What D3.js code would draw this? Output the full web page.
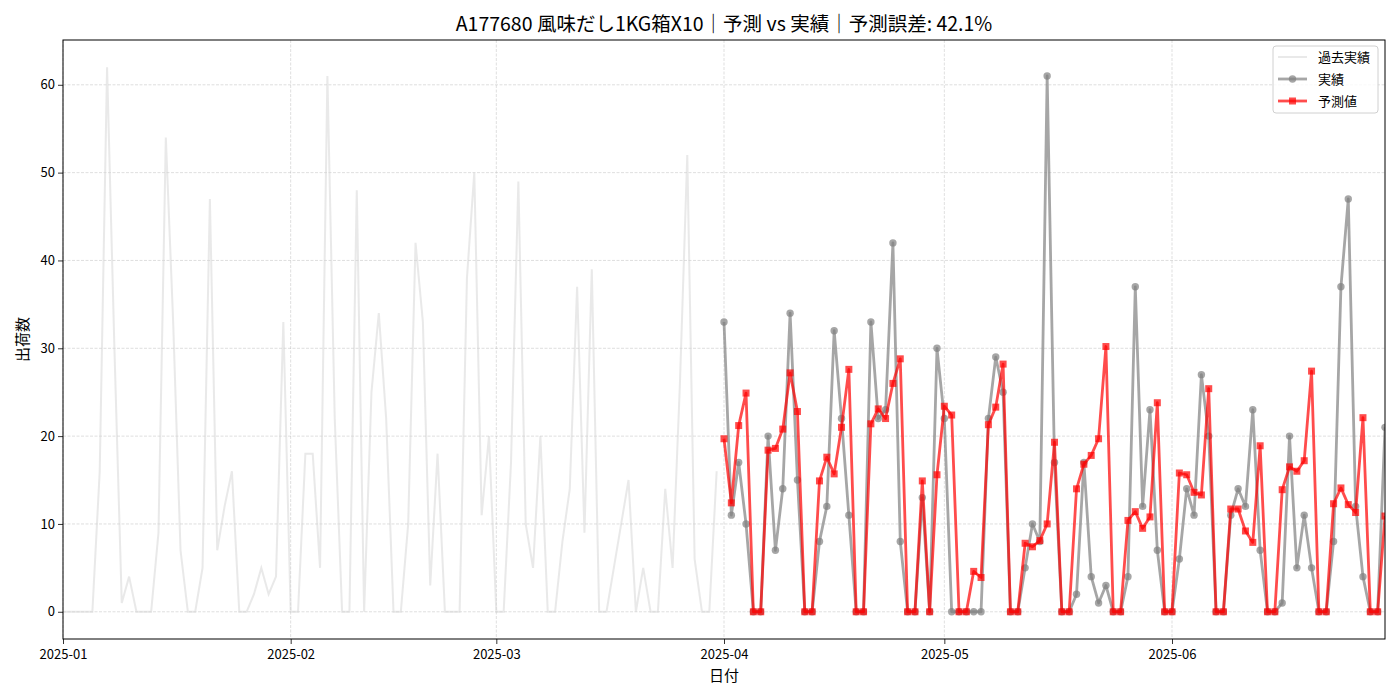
<!DOCTYPE html>
<html>
<head>
<meta charset="utf-8">
<script src="https://cdn.jsdelivr.net/npm/d3@7"></script>
<style>
  body { margin: 0; background: #fff; }
  text { font-family: "Noto Sans CJK JP", "Noto Sans", sans-serif; }
</style>
</head>
<body>
<div id="chart-area"></div>
<script>
const title = 'A177680 風味だし1KG箱X10｜予測 vs 実績｜予測誤差: 42.1%';

// daily shipments, 2025-01-01 .. 2025-03-31
const pastStart = Date.UTC(2025, 0, 1);
const pastValues = [
    0, 0, 0, 0, 0, 16, 62, 30, 1, 4, 0, 0, 0, 9, 54, 33, 7, 0, 0, 5,
    47, 7, 12, 16, 0, 0, 2, 5, 2, 4, 33, 0, 0, 18, 18, 5, 61, 22, 0, 0,
    48, 0, 25, 34, 22, 0, 0, 10, 42, 33, 3, 18, 0, 0, 0, 38, 50, 11, 20, 0,
    0, 17, 49, 10, 5, 20, 0, 0, 8, 14, 37, 9, 39, 0, 0, 5, 10, 15, 0, 5,
    0, 0, 14, 5, 26, 52, 6, 0, 0, 16
];

// daily, 2025-04-01 .. 2025-06-30
const testStart = Date.UTC(2025, 3, 1);
const actualValues = [
    33, 11, 17, 10, 0, 0, 20, 7, 14, 34, 15, 0, 0, 8, 12, 32, 22, 11, 0, 0,
    33, 22, 23, 42, 8, 0, 0, 13, 0, 30, 22, 0, 0, 0, 0, 0, 22, 29, 25, 0,
    0, 5, 10, 8, 61, 17, 0, 0, 2, 17, 4, 1, 3, 0, 0, 4, 37, 12, 23, 7,
    0, 0, 6, 14, 11, 27, 20, 0, 0, 11, 14, 12, 23, 7, 0, 0, 1, 20, 5, 11,
    5, 0, 0, 8, 37, 47, 12, 4, 0, 0, 21
];
const predValues = [
    19.7, 12.4, 21.2, 24.9, 0, 0, 18.4, 18.6, 20.8, 27.2, 22.8, 0, 0, 14.9, 17.6, 15.7, 21.0, 27.6, 0, 0,
    21.4, 23.1, 22.0, 26.0, 28.8, 0, 0, 14.9, 0, 15.6, 23.4, 22.4, 0, 0, 4.6, 3.9, 21.3, 23.3, 28.2, 0,
    0, 7.8, 7.4, 8.1, 10.0, 19.3, 0, 0, 14.0, 16.8, 17.8, 19.7, 30.2, 0, 0, 10.4, 11.4, 9.5, 10.8, 23.8,
    0, 0, 15.8, 15.6, 13.6, 13.3, 25.4, 0, 0, 11.7, 11.7, 9.2, 7.9, 18.9, 0, 0, 13.9, 16.5, 16.0, 17.2,
    27.4, 0, 0, 12.3, 14.1, 12.2, 11.3, 22.1, 0, 0, 10.9
];

const yTicks = [0, 10, 20, 30, 40, 50, 60];
const legendLabels = ['過去実績', '実績', '予測値'];

const dayMs = 24 * 3600 * 1000;
const past = pastValues.map((v, i) => ({ date: new Date(pastStart + i * dayMs), value: v }));
const actual = actualValues.map((v, i) => ({ date: new Date(testStart + i * dayMs), value: v }));
const pred = predValues.map((v, i) => ({ date: new Date(testStart + i * dayMs), value: v }));

const totalWidth = 1400, totalHeight = 700;
const margin = { top: 40, right: 15, bottom: 61, left: 63 };
const width = totalWidth - margin.left - margin.right;
const height = totalHeight - margin.top - margin.bottom;

const svg = d3.select('#chart-area').append('svg')
    .attr('width', totalWidth)
    .attr('height', totalHeight);

const g = svg.append('g')
    .attr('transform', `translate(${margin.left}, ${margin.top})`);

const x = d3.scaleUtc()
    .domain([past[0].date, actual[actual.length - 1].date])
    .range([0, width]);

const allValues = pastValues.concat(actualValues, predValues);
const yMax = d3.max(allValues);
const pad = yMax * 0.05;
const y = d3.scaleLinear()
    .domain([-pad, yMax + pad])
    .range([height, 0]);

const monthTicks = d3.utcMonth.range(past[0].date, actual[actual.length - 1].date);

// grid
g.append('g').selectAll('line.gy')
    .data(yTicks).join('line')
    .attr('x1', 0).attr('x2', width)
    .attr('y1', d => y(d)).attr('y2', d => y(d))
    .attr('stroke', '#b0b0b0').attr('stroke-opacity', 0.5)
    .attr('stroke-width', 0.8).attr('stroke-dasharray', '3,1.5');
g.append('g').selectAll('line.gx')
    .data(monthTicks).join('line')
    .attr('x1', d => x(d)).attr('x2', d => x(d))
    .attr('y1', 0).attr('y2', height)
    .attr('stroke', '#b0b0b0').attr('stroke-opacity', 0.5)
    .attr('stroke-width', 0.8).attr('stroke-dasharray', '3,1.5');

svg.append('clipPath').attr('id', 'plot-clip')
    .append('rect').attr('width', width).attr('height', height);

const plot = g.append('g').attr('clip-path', 'url(#plot-clip)');

const line = d3.line()
    .x(d => x(d.date))
    .y(d => y(d.value));

plot.append('path')
    .datum(past)
    .attr('d', line)
    .attr('fill', 'none')
    .attr('stroke', '#d3d3d3')
    .attr('stroke-opacity', 0.5)
    .attr('stroke-width', 2);

plot.append('path')
    .datum(actual)
    .attr('d', line)
    .attr('fill', 'none')
    .attr('stroke', 'gray')
    .attr('stroke-opacity', 0.7)
    .attr('stroke-width', 2.8)
    .attr('stroke-linejoin', 'round');
plot.append('g').selectAll('circle')
    .data(actual).join('circle')
    .attr('cx', d => x(d.date))
    .attr('cy', d => y(d.value))
    .attr('r', 3.7)
    .attr('fill', 'gray')
    .attr('fill-opacity', 0.7);

plot.append('path')
    .datum(pred)
    .attr('d', line)
    .attr('fill', 'none')
    .attr('stroke', 'red')
    .attr('stroke-opacity', 0.7)
    .attr('stroke-width', 2.8)
    .attr('stroke-linejoin', 'round');
plot.append('g').selectAll('rect')
    .data(pred).join('rect')
    .attr('x', d => x(d.date) - 3.5)
    .attr('y', d => y(d.value) - 3.5)
    .attr('width', 7)
    .attr('height', 7)
    .attr('fill', 'red')
    .attr('fill-opacity', 0.7);

// axes
const xAxisCall = d3.axisBottom(x)
    .tickValues(monthTicks)
    .tickFormat(d3.utcFormat('%Y-%m'))
    .tickSizeOuter(0)
    .tickSize(5);
const xAxis = g.append('g')
    .attr('transform', `translate(0, ${height})`)
    .call(xAxisCall);

const yAxisCall = d3.axisLeft(y)
    .tickValues(yTicks)
    .tickSizeOuter(0)
    .tickSize(5);
const yAxis = g.append('g').call(yAxisCall);

[xAxis, yAxis].forEach(a => {
    a.select('.domain').remove();
    a.selectAll('.tick line').attr('stroke', '#000').attr('stroke-width', 0.8);
    a.selectAll('.tick text')
        .attr('fill', '#000')
        .style('font-size', '13px')
        .style('font-family', '"Noto Sans CJK JP", sans-serif');
});
xAxis.selectAll('.tick text').attr('dy', '0.92em');

g.append('rect')
    .attr('width', width).attr('height', height)
    .attr('fill', 'none').attr('stroke', '#000').attr('stroke-width', 1);

// labels
svg.append('text')
    .attr('x', margin.left + width / 2)
    .attr('y', 31)
    .attr('text-anchor', 'middle')
    .style('font-size', '19.5px')
    .text(title);

svg.append('text')
    .attr('x', margin.left + width / 2)
    .attr('y', 681)
    .attr('text-anchor', 'middle')
    .style('font-size', '15px')
    .text('日付');

svg.append('text')
    .attr('transform', `translate(28, ${margin.top + height / 2}) rotate(-90)`)
    .attr('text-anchor', 'middle')
    .style('font-size', '15px')
    .text('出荷数');

// legend
const legend = g.append('g')
    .attr('transform', `translate(${width - 112}, 6)`);
legend.append('rect')
    .attr('width', 105).attr('height', 67)
    .attr('rx', 3)
    .attr('fill', '#fff').attr('fill-opacity', 0.8)
    .attr('stroke', '#d0d0d0');

const rowY = [11, 33, 55];
const styles = [
    { stroke: '#d3d3d3', opacity: 0.5, width: 2, marker: null },
    { stroke: 'gray', opacity: 0.7, width: 2.8, marker: 'circle' },
    { stroke: 'red', opacity: 0.7, width: 2.8, marker: 'square' }
];
legendLabels.forEach((label, i) => {
    const row = legend.append('g').attr('transform', `translate(0, ${rowY[i]})`);
    const s = styles[i];
    row.append('line')
        .attr('x1', 5).attr('x2', 34)
        .attr('stroke', s.stroke).attr('stroke-opacity', s.opacity)
        .attr('stroke-width', s.width);
    if (s.marker === 'circle') {
        row.append('circle').attr('cx', 19.5).attr('r', 3.7)
            .attr('fill', s.stroke).attr('fill-opacity', s.opacity);
    } else if (s.marker === 'square') {
        row.append('rect').attr('x', 16).attr('y', -3.5)
            .attr('width', 7).attr('height', 7)
            .attr('fill', s.stroke).attr('fill-opacity', s.opacity);
    }
    row.append('text')
        .attr('x', 45).attr('dy', '0.35em')
        .style('font-size', '13px')
        .text(label);
});
</script>
</body>
</html>
